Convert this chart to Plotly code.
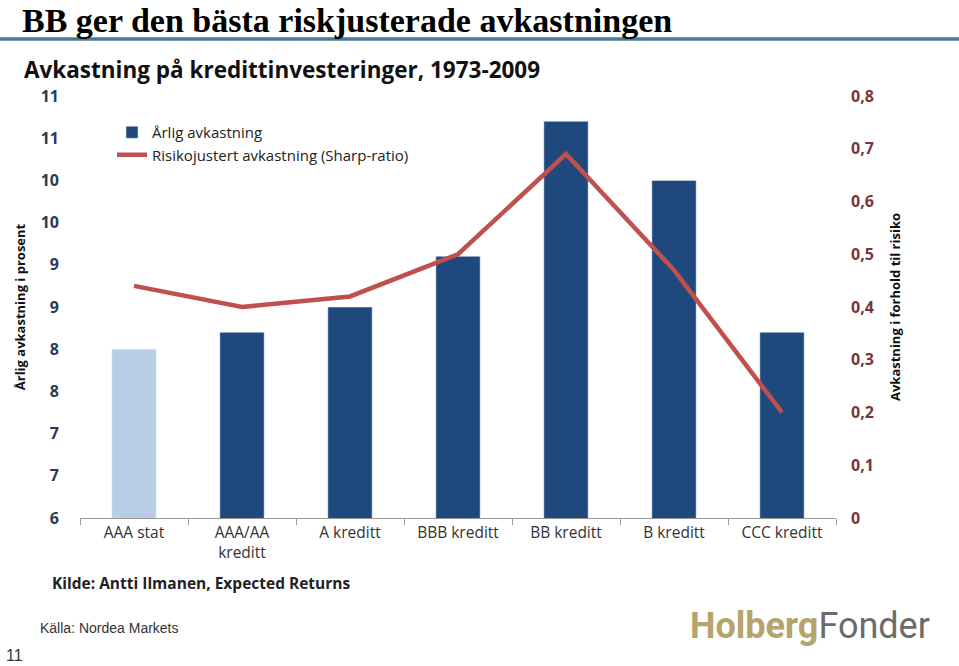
import plotly.graph_objects as go

categories = ["AAA stat", "AAA/AA<br>kreditt", "A kreditt", "BBB kreditt", "BB kreditt", "B kreditt", "CCC kreditt"]
annual_return = [8.0, 8.2, 8.5, 9.1, 10.7, 10.0, 8.2]
sharpe_ratio = [0.44, 0.40, 0.42, 0.50, 0.69, 0.47, 0.20]
highlight = [True, False, False, False, False, False, False]
left_tickvals = [6, 6.5, 7, 7.5, 8, 8.5, 9, 9.5, 10, 10.5, 11]
left_ticktext = ["6", "7", "7", "8", "8", "9", "9", "10", "10", "11", "11"]
right_tickvals = [0, 0.1, 0.2, 0.3, 0.4, 0.5, 0.6, 0.7, 0.8]
right_ticktext = ["0", "0,1", "0,2", "0,3", "0,4", "0,5", "0,6", "0,7", "0,8"]

W, H = 959, 666
x0, x1 = 80, 836
y_top, y_bot = 96, 518


def py(p):
    return (y_bot - p) / (y_bot - y_top)


light_vals = [v if h else None for v, h in zip(annual_return, highlight)]
dark_vals = [None if h else v for v, h in zip(annual_return, highlight)]

fig = go.Figure()
fig.add_trace(go.Bar(
    x=categories, y=dark_vals, marker_color="#1f497d", width=0.41,
    name="Årlig avkastning", yaxis="y",
))
fig.add_trace(go.Bar(
    x=categories, y=light_vals, marker_color="#b9cde5", width=0.41,
    name="AAA", yaxis="y", showlegend=False,
))
fig.add_trace(go.Scatter(
    x=categories, y=sharpe_ratio, mode="lines", line=dict(color="#c0504d", width=4.5),
    name="Risikojustert avkastning (Sharp-ratio)", yaxis="y2",
))

font_c = "Open Sans"
fig.update_layout(
    width=W, height=H,
    barmode="overlay",
    margin=dict(l=0, r=0, t=y_top, b=H - y_bot),
    paper_bgcolor="white", plot_bgcolor="white",
    showlegend=True,
    legend=dict(x=112 / W, y=py(116), xanchor="left", yanchor="top",
                font=dict(family=font_c, size=15, color="#222"), bgcolor="rgba(0,0,0,0)",
                tracegroupgap=0, itemwidth=30),
    xaxis=dict(domain=[x0 / W, x1 / W], showline=True, linecolor="#999", linewidth=1,
               ticks="outside", tickson="boundaries", ticklen=6, tickcolor="#999",
               tickfont=dict(family=font_c, size=15.5, color="#333"), showgrid=False),
    yaxis=dict(range=[6, 11], tickvals=left_tickvals, ticktext=left_ticktext, showgrid=False,
               zeroline=False, showline=False,
               tickfont=dict(family=font_c, size=16, color="#2a3a55", weight="bold"),
               ticklabelstandoff=20,
               title=dict(text="Årlig avkastning i prosent", standoff=12,
                          font=dict(family=font_c, size=13, color="#111", weight="bold"))),
    yaxis2=dict(range=[0, 0.8], tickvals=right_tickvals, ticktext=right_ticktext, overlaying="y",
                side="right", anchor="x", showgrid=False, zeroline=False, showline=False,
                tickfont=dict(family=font_c, size=16, color="#7a3535", weight="bold"),
                ticklabelstandoff=14,
                title=dict(text="Avkastning i forhold til risiko", standoff=18,
                           font=dict(family=font_c, size=13, color="#111", weight="bold"))),
    shapes=[dict(type="line", xref="paper", yref="paper", x0=0, x1=1,
                 y0=py(39), y1=py(39), line=dict(color="#4a7896", width=3.5))],
    annotations=[
        dict(text="<b>BB ger den bästa riskjusterade avkastningen</b>", xref="paper", yref="paper",
             x=20 / W, y=py(0), xanchor="left", yanchor="top", showarrow=False,
             font=dict(family="Liberation Serif", size=34, color="#000")),
        dict(text="<b>Avkastning på kredittinvesteringer, 1973-2009</b>", xref="paper", yref="paper",
             x=22 / W, y=py(70), xanchor="left", yanchor="middle", showarrow=False,
             font=dict(family=font_c, size=22.5, color="#111")),
        dict(text="Kilde: Antti Ilmanen, Expected Returns", xref="paper", yref="paper",
             x=50 / W, y=py(583), xanchor="left", yanchor="middle", showarrow=False,
             font=dict(family=font_c, size=15.5, color="#222", weight="bold")),
        dict(text="Källa: Nordea Markets", xref="paper", yref="paper",
             x=38 / W, y=py(628), xanchor="left", yanchor="middle", showarrow=False,
             font=dict(family="Liberation Sans", size=14, color="#333")),
        dict(text="11", xref="paper", yref="paper",
             x=4 / W, y=py(655), xanchor="left", yanchor="middle", showarrow=False,
             font=dict(family="Liberation Sans", size=16, color="#333")),
        dict(text="<span style='color:#b5a46c'><b>Holberg</b></span><span style='color:#6b6b6b'>Fonder</span>",
             xref="paper", yref="paper",
             x=932 / W, y=py(626), xanchor="right", yanchor="middle", showarrow=False,
             font=dict(family="Roboto", size=36)),
    ],
)

fig.write_html("out.html", config={"displayModeBar": False},
               post_script="document.body.style.margin='0';")
